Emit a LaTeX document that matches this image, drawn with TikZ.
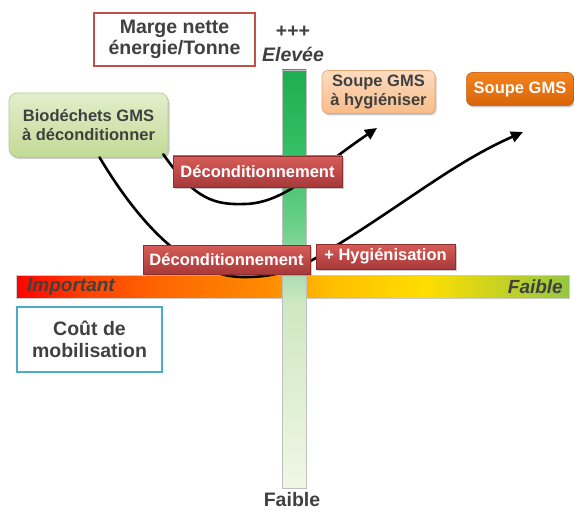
\documentclass[tikz,border=0pt]{standalone}
\usepackage{fontspec}
\setmainfont{Liberation Sans}
\usetikzlibrary{shadows,arrows.meta}

\definecolor{txt}{HTML}{404040}
\definecolor{titleframe}{HTML}{C0504D}
\definecolor{costframe}{HTML}{4BACC6}
\definecolor{redtop}{HTML}{D65C58}
\definecolor{redbot}{HTML}{A8393A}
\definecolor{redline}{HTML}{8E2F2D}
\definecolor{greentop}{HTML}{E2EECB}
\definecolor{greenbot}{HTML}{C4DA96}
\definecolor{greenline}{HTML}{B3C98A}
\definecolor{peachtop}{HTML}{FDDCC0}
\definecolor{peachbot}{HTML}{F9BC88}
\definecolor{peachline}{HTML}{E3A571}
\definecolor{orangetop}{HTML}{F3831E}
\definecolor{orangebot}{HTML}{D9640A}

% cost axis: red -> orange -> yellow -> green (stops between 25bp and 75bp)
\pgfdeclarehorizontalshading{costaxis}{100bp}{%
  rgb(0bp)=(1,0,0);
  rgb(25bp)=(1,0,0);
  rgb(31bp)=(1,0.25,0);
  rgb(38bp)=(1,0.40,0);
  rgb(48bp)=(1,0.55,0);
  rgb(53bp)=(1,0.74,0);
  rgb(62bp)=(1,0.87,0);
  rgb(75bp)=(0.58,0.78,0.26);
  rgb(100bp)=(0.58,0.78,0.26)}

% margin axis: pale at the bottom, strong green at the top
\pgfdeclareverticalshading{marginaxis}{100bp}{%
  rgb(0bp)=(0.94,0.97,0.90);
  rgb(25bp)=(0.94,0.97,0.90);
  rgb(47bp)=(0.81,0.91,0.76);
  rgb(51bp)=(0.66,0.86,0.69);
  rgb(56bp)=(0.43,0.82,0.54);
  rgb(65bp)=(0.21,0.75,0.40);
  rgb(75bp)=(0.12,0.68,0.32);
  rgb(100bp)=(0.12,0.68,0.32)}

\begin{document}
\begin{tikzpicture}[x=1pt,y=-1pt,
  lbl/.style={font=\bfseries\fontsize{16.5}{18.5}\selectfont, align=center, inner sep=0pt},
  axislbl/.style={font=\bfseries\fontsize{19.5}{21.5}\selectfont, text=txt, align=center, inner sep=0pt},
  boxshadow/.style={drop shadow={shadow xshift=1.5pt, shadow yshift=-1.8pt, opacity=0.35, fill=black!60}},
  redbox/.style={lbl, rectangle, top color=redtop, bottom color=redbot, draw=redline,
    line width=0.5pt, text=white, boxshadow},
  greenbox/.style={lbl, rectangle, rounded corners=8pt, top color=greentop, bottom color=greenbot,
    draw=greenline, line width=0.6pt, text=txt, boxshadow},
  peachbox/.style={lbl, rectangle, rounded corners=6pt, top color=peachtop, bottom color=peachbot,
    draw=peachline, line width=0.6pt, text=txt, boxshadow},
  orangebox/.style={lbl, rectangle, rounded corners=6pt, top color=orangetop, bottom color=orangebot,
    draw=orangebot!85!black, line width=0.5pt, text=white, boxshadow},
  framebox/.style={axislbl, rectangle, fill=white, line width=2pt},
  curve/.style={line width=2.6pt, black, line cap=round,
    -{Triangle[length=12pt,width=11pt]}}
]
\useasboundingbox (0,0) rectangle (574,511);

% horizontal axis: mobilisation cost
\shade[shading=costaxis, draw=black!20, line width=0.4pt] (16,275) rectangle (569,298);
\node[font=\bfseries\itshape\fontsize{19}{21}\selectfont, text=txt, anchor=west, inner sep=0pt]
  (important) at (27,287) {Important};
\node[font=\bfseries\itshape\fontsize{19}{21}\selectfont, text=txt, anchor=east, inner sep=0pt]
  (faibleh) at (563,287) {Faible};

% vertical axis: net energy margin per tonne
\shade[shading=marginaxis, draw=black!25, line width=0.4pt] (282,70) rectangle (306,488);

% axis titles
\node[framebox, draw=titleframe, minimum width=161pt, minimum height=53pt]
  (marge) at (174.5,39.5) {Marge nette\\énergie/Tonne};
\node[framebox, draw=costframe, minimum width=145pt, minimum height=65pt]
  (cout) at (89.5,339.5) {Coût de\\mobilisation};
\node[axislbl] (plus) at (293,32) {+++};
\node[axislbl, font=\bfseries\itshape\fontsize{19.5}{21.5}\selectfont] (elevee) at (293,54) {Elevée};
\node[axislbl] (faiblev) at (292,500) {Faible};

% start and end products
\node[greenbox, minimum width=159pt, minimum height=64pt]
  (bio) at (88.5,125) {Biodéchets GMS\\à déconditionner};
\node[peachbox, minimum width=113pt, minimum height=43pt]
  (hyg) at (378.5,92) {Soupe GMS\\à hygiéniser};
\node[orangebox, minimum width=107pt, minimum height=33pt]
  (soupe) at (520,89) {Soupe GMS};

\coordinate (tipA) at (377,128);
\coordinate (tipB) at (523,132);

% process paths
\draw[curve] ([shift={(-5,-3)}]bio.south east)
  .. controls (195,200) and (215,205) .. (245,204)
  .. controls (285,203) and (315,170) .. (tipA);
\draw[curve] ([shift={(11,0)}]bio.south)
  .. controls (140,225) and (190,278) .. (245,277)
  .. controls (290,277) and (310,262) .. (350,237)
  .. controls (420,192) and (460,160) .. (tipB);

% process steps
\node[redbox, minimum width=169pt, minimum height=31pt]
  (decA) at (257.5,171.5) {Déconditionnement};
\node[redbox, minimum width=167pt, minimum height=29pt]
  (decB) at (226.5,259.5) {Déconditionnement};
\node[redbox, minimum width=139pt, minimum height=25pt]
  (hygstep) at (385.5,256.5) {+ Hygiénisation};
\end{tikzpicture}
\end{document}
